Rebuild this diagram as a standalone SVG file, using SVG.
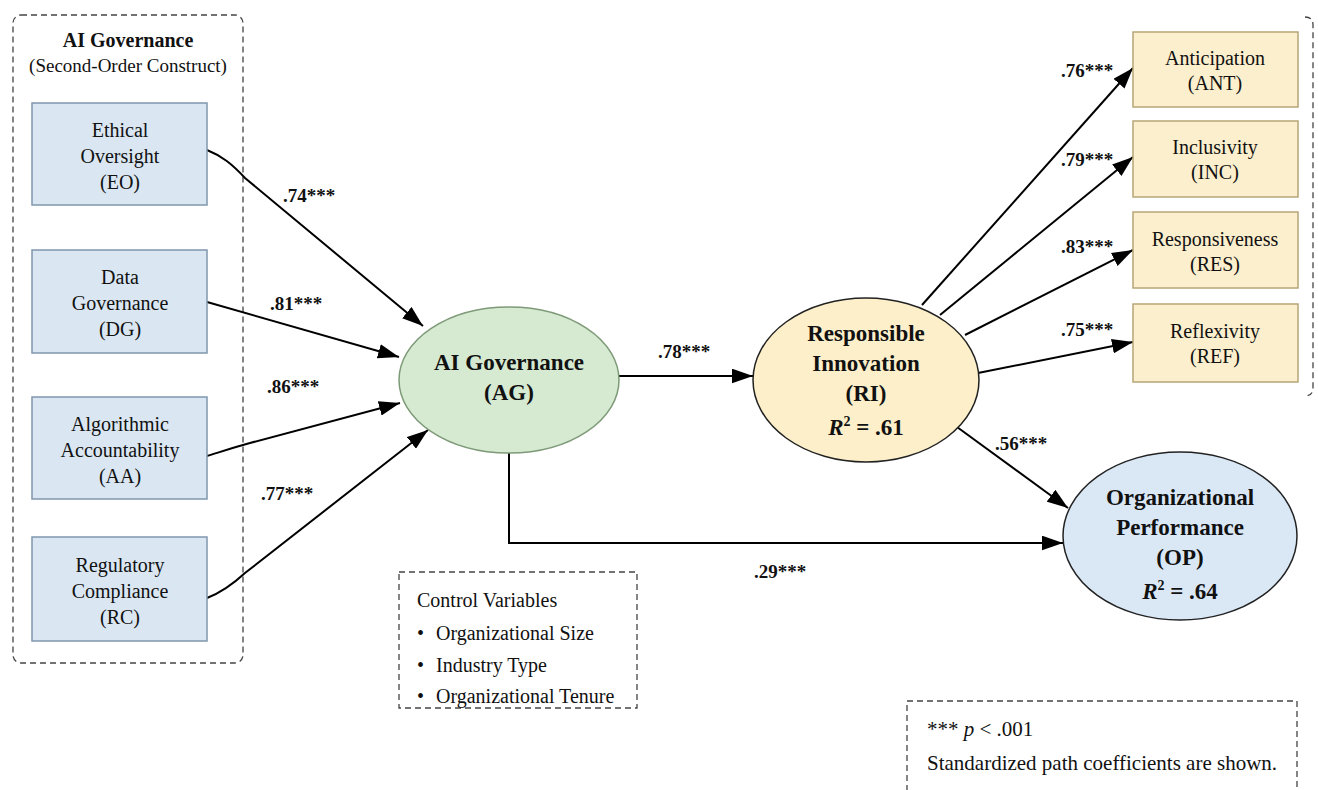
<svg xmlns="http://www.w3.org/2000/svg" width="1318" height="790" viewBox="0 0 1318 790">
<defs>
<marker id="ah" viewBox="0 0 20 14" refX="20" refY="7" markerWidth="21" markerHeight="15" markerUnits="userSpaceOnUse" orient="auto">
<path d="M0,0 L20,7 L0,14 Z" fill="#000"/>
</marker>
<style>
text{font-family:"Liberation Serif","Times New Roman",serif;fill:#111;}
.bt{font-size:20px;text-anchor:middle;}
.et{font-size:23px;font-weight:bold;text-anchor:middle;}
.lb{font-size:19px;font-weight:bold;}
.bl{fill:#dae7f3;stroke:#7f97ad;stroke-width:1.5;}
.yl{fill:#fcefcd;stroke:#b7a677;stroke-width:1.5;}
.dash{fill:none;stroke:#444;stroke-width:1.3;stroke-dasharray:6 4;}
.cn{fill:none;stroke:#000;stroke-width:2;marker-end:url(#ah);}
.nt{font-size:20px;}
.lg{font-size:21px;}
</style>
</defs>
<rect width="1318" height="790" fill="#fff"/>

<g id="group-ag">
<rect class="dash" x="13" y="15" width="230" height="648" rx="8"/>
<text x="128" y="47" class="bt" font-weight="bold">AI Governance</text>
<text x="128" y="72" class="bt" style="font-size:19px">(Second-Order Construct)</text>
</g>
<g id="group-ri">
<path class="dash" d="M1305,17 Q1313,17 1313,25 L1313,388 Q1313,396 1305,396"/>
</g>

<g id="connectors">
<path class="cn" d="M207,150 C222,156 232,164 245,178 L423,326"/>
<path class="cn" d="M207,302 L399,357"/>
<path class="cn" d="M207,456 C220,452 235,447 250,443 L400,403"/>
<path class="cn" d="M207,598 C220,593 232,585 245,573 L428,430"/>
<path class="cn" d="M619,376 L753,376"/>
<path class="cn" d="M922,305 L1133,68"/>
<path class="cn" d="M940,315 L1133,157"/>
<path class="cn" d="M965,335 L1133,250"/>
<path class="cn" d="M978,373 L1133,342"/>
<path class="cn" d="M957,427 L1068,508"/>
<path class="cn" d="M509,453 L509,543 L1063,543"/>
</g>

<g id="labels">
<text class="lb" x="283" y="202">.74***</text>
<text class="lb" x="270" y="310">.81***</text>
<text class="lb" x="267" y="393">.86***</text>
<text class="lb" x="261" y="500">.77***</text>
<text class="lb" x="658" y="358">.78***</text>
<text class="lb" x="1061" y="77">.76***</text>
<text class="lb" x="1061" y="166">.79***</text>
<text class="lb" x="1061" y="253">.83***</text>
<text class="lb" x="1061" y="336">.75***</text>
<text class="lb" x="995" y="450">.56***</text>
<text class="lb" x="754" y="578">.29***</text>
</g>

<g id="node-eo">
<rect class="bl" x="32" y="103" width="175" height="102"/>
<text class="bt" x="120" y="137">Ethical</text>
<text class="bt" x="120" y="163">Oversight</text>
<text class="bt" x="120" y="189">(EO)</text>
</g>
<g id="node-dg">
<rect class="bl" x="32" y="250" width="175" height="103"/>
<text class="bt" x="120" y="284">Data</text>
<text class="bt" x="120" y="310">Governance</text>
<text class="bt" x="120" y="336">(DG)</text>
</g>
<g id="node-aa">
<rect class="bl" x="32" y="397" width="175" height="102"/>
<text class="bt" x="120" y="431">Algorithmic</text>
<text class="bt" x="120" y="457">Accountability</text>
<text class="bt" x="120" y="483">(AA)</text>
</g>
<g id="node-rc">
<rect class="bl" x="32" y="537" width="175" height="104"/>
<text class="bt" x="120" y="572">Regulatory</text>
<text class="bt" x="120" y="598">Compliance</text>
<text class="bt" x="120" y="624">(RC)</text>
</g>

<g id="node-ag">
<ellipse cx="509" cy="380" rx="110" ry="73" fill="#d6ead2" stroke="#7e9a78" stroke-width="1.5"/>
<text class="et" x="509" y="370">AI Governance</text>
<text class="et" x="509" y="400">(AG)</text>
</g>
<g id="node-ri">
<ellipse cx="866" cy="380" rx="113" ry="82" fill="#fcefc9" stroke="#222" stroke-width="1.5"/>
<text class="et" x="866" y="341">Responsible</text>
<text class="et" x="866" y="371">Innovation</text>
<text class="et" x="866" y="401">(RI)</text>
<text class="et" x="866" y="435"><tspan font-style="italic">R</tspan><tspan font-size="14" dy="-9">2</tspan><tspan dy="9"> = .61</tspan></text>
</g>
<g id="node-op">
<ellipse cx="1180" cy="536" rx="117" ry="84" fill="#dae8f6" stroke="#222" stroke-width="1.5"/>
<text class="et" x="1180" y="505">Organizational</text>
<text class="et" x="1180" y="535">Performance</text>
<text class="et" x="1180" y="565">(OP)</text>
<text class="et" x="1180" y="599"><tspan font-style="italic">R</tspan><tspan font-size="14" dy="-9">2</tspan><tspan dy="9"> = .64</tspan></text>
</g>

<g id="node-ant">
<rect class="yl" x="1133" y="32" width="165" height="75"/>
<text class="bt" x="1215" y="65">Anticipation</text>
<text class="bt" x="1215" y="90">(ANT)</text>
</g>
<g id="node-inc">
<rect class="yl" x="1133" y="121" width="165" height="76"/>
<text class="bt" x="1215" y="154">Inclusivity</text>
<text class="bt" x="1215" y="179">(INC)</text>
</g>
<g id="node-res">
<rect class="yl" x="1133" y="212" width="165" height="76"/>
<text class="bt" x="1215" y="246">Responsiveness</text>
<text class="bt" x="1215" y="271">(RES)</text>
</g>
<g id="node-ref">
<rect class="yl" x="1133" y="304" width="165" height="78"/>
<text class="bt" x="1215" y="338">Reflexivity</text>
<text class="bt" x="1215" y="363">(REF)</text>
</g>

<g id="controls">
<rect class="dash" x="399" y="572" width="238" height="136"/>
<text class="nt" x="417" y="607">Control Variables</text>
<text class="nt" x="417" y="640">•</text><text class="nt" x="436" y="640">Organizational Size</text>
<text class="nt" x="417" y="672">•</text><text class="nt" x="436" y="672">Industry Type</text>
<text class="nt" x="417" y="703">•</text><text class="nt" x="436" y="703">Organizational Tenure</text>
</g>

<g id="legend">
<rect class="dash" x="907" y="701" width="390" height="110"/>
<text class="lg" x="927" y="736">*** <tspan font-style="italic">p</tspan> &lt; .001</text>
<text class="lg" x="927" y="770">Standardized path coefficients are shown.</text>
</g>
</svg>
